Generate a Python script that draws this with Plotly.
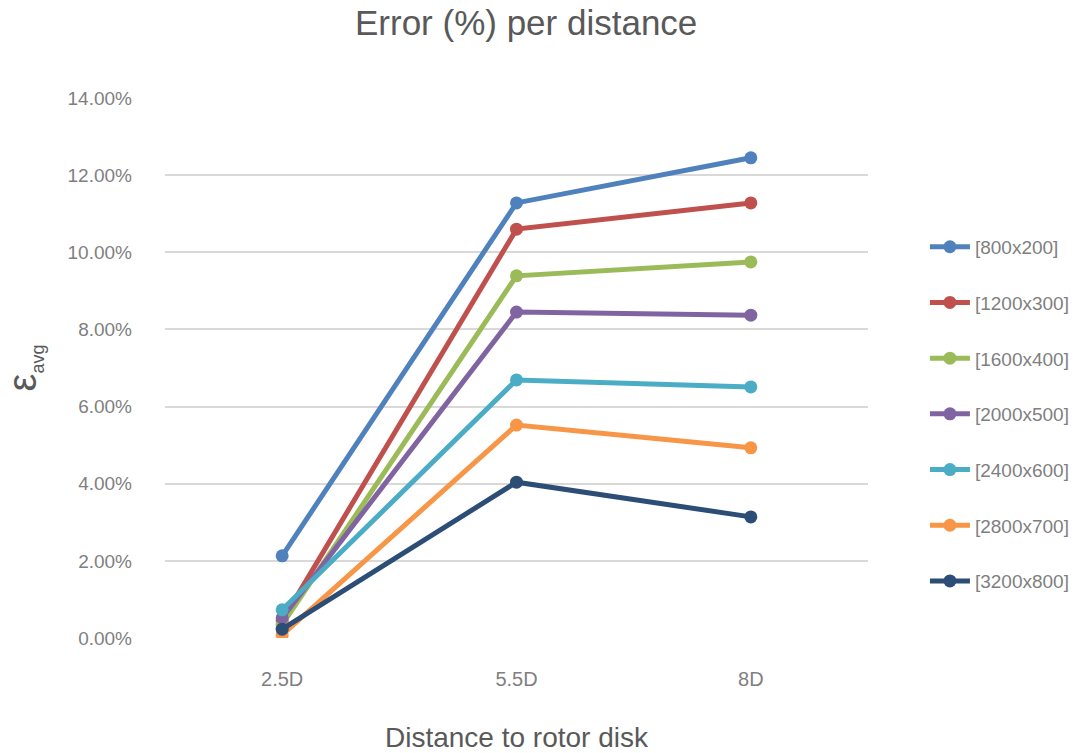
import plotly.graph_objects as go

categories = ["2.5D", "5.5D", "8D"]
series_names = ["[800x200]", "[1200x300]", "[1600x400]", "[2000x500]", "[2400x600]", "[2800x700]", "[3200x800]"]
s800 = [0.0213, 0.1128, 0.1245]
s1200 = [0.0045, 0.1060, 0.1128]
s1600 = [0.0035, 0.0939, 0.0975]
s2000 = [0.0052, 0.0845, 0.0837]
s2400 = [0.0073, 0.0669, 0.0651]
s2800 = [0.0008, 0.0552, 0.0493]
s3200 = [0.0023, 0.0404, 0.0314]
colors = ["#4F81BD", "#C0504D", "#9BBB59", "#8064A2", "#4BACC6", "#F79646", "#2C4D75"]
ytick_vals = [0, 0.02, 0.04, 0.06, 0.08, 0.10, 0.12, 0.14]

all_series = [s800, s1200, s1600, s2000, s2400, s2800, s3200]

fig = go.Figure()
for i, (name, vals) in enumerate(zip(series_names, all_series)):
    fig.add_trace(go.Scatter(
        x=categories, y=vals, name=name, mode="lines+markers",
        line=dict(color=colors[i], width=5),
        marker=dict(color=colors[i], size=13),
        legendgroup=name,
    ))

font_family = "Liberation Sans, Arial, sans-serif"
fig.update_layout(
    width=1076, height=753,
    paper_bgcolor="white", plot_bgcolor="white",
    margin=dict(l=165, r=208, t=98, b=115, autoexpand=False),
    title=dict(text="Error (%) per distance", x=0.489, xanchor="center", xref="container",
               y=0.970, yanchor="middle",
               font=dict(family=font_family, size=35, color="#595959")),
    font=dict(family=font_family),
    xaxis=dict(
        type="category", range=[-0.5, 2.5], automargin=False,
        showgrid=False, zeroline=False, showline=False,
        tickfont=dict(size=20, color="#7F7F7F"),
        ticks="", ticklabelstandoff=27,
        title=dict(text="Distance to rotor disk", font=dict(size=28, color="#595959"), standoff=40),
    ),
    yaxis=dict(
        range=[0, 0.14], tickvals=ytick_vals, tickformat=".2%", automargin=False,
        showgrid=True, gridcolor="#D9D9D9", gridwidth=2,
        zeroline=False, showline=False,
        tickfont=dict(size=19, color="#7F7F7F"),
        ticks="", ticklabelstandoff=32,
        title=dict(text="ε<sub><span style='font-size:18px'>avg</span></sub>",
                   font=dict(size=40, color="#595959"), standoff=40),
    ),
    legend=dict(
        x=1.081, y=0.415, xanchor="left", yanchor="middle",
        font=dict(size=19, color="#7F7F7F"),
        tracegroupgap=28, itemwidth=40,
    ),
    showlegend=True,
)

fig.write_html("out.html")
